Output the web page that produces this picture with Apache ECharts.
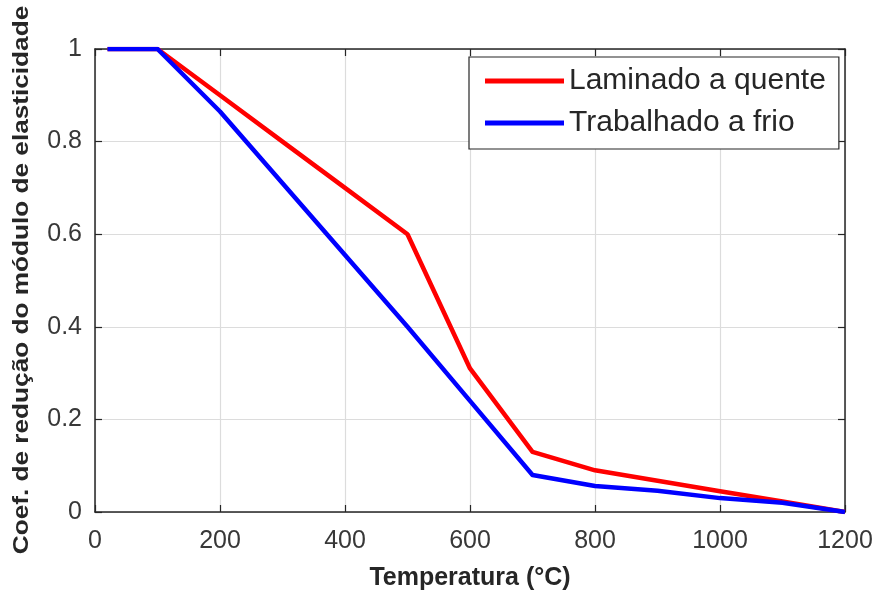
<!DOCTYPE html>
<html>
<head>
<meta charset="utf-8">
<script src="https://cdn.jsdelivr.net/npm/echarts@6/dist/echarts.min.js"></script>
<style>
  html, body { margin: 0; padding: 0; background: #fff; }
  #chart { width: 879px; height: 596px; }
</style>
</head>
<body>
<div id="chart"></div>
<script>
// Elastic modulus reduction factor versus temperature
const temperatures = [20, 100, 200, 300, 400, 500, 600, 700, 800, 900, 1000, 1100, 1200];
const hotRolled  = [1, 1, 0.9, 0.8, 0.7, 0.6, 0.31, 0.13, 0.09, 0.0675, 0.045, 0.0225, 0];
const coldFormed = [1, 1, 0.865, 0.71, 0.555, 0.40, 0.24, 0.08, 0.056, 0.046, 0.03, 0.02, 0];
const seriesNames = ['Laminado a quente', 'Trabalhado a frio'];
const xTitle = 'Temperatura (°C)';
const yTitle = 'Coef. de redução do módulo de elasticidade';

const FONT = 'Liberation Sans, Arial, sans-serif';
const INK = '#262626';

const pairs = (xs, ys) => xs.map((x, i) => [x, ys[i]]);

const chart = echarts.init(document.getElementById('chart'), null, { renderer: 'canvas' });

// Box outline: all four axes keep their own edge instead of snapping to zero
const boxAxisLine = { show: true, onZero: false, lineStyle: { color: INK, width: 1.5 } };
const innerTick = { show: true, inside: true, length: 7, lineStyle: { color: INK, width: 1.2 } };
const plain = v => String(v);

chart.setOption({
  animation: false,
  backgroundColor: '#ffffff',
  grid: { left: 95, right: 34, top: 49, bottom: 84, containLabel: false },
  legend: {
    orient: 'vertical',
    left: 469,
    top: 57,
    padding: [9, 13, 11, 16],
    itemGap: 12,
    itemWidth: 79,
    itemHeight: 5,
    itemTextGap: 9,
    icon: 'rect',
    backgroundColor: '#ffffff',
    borderColor: INK,
    borderWidth: 1.2,
    textStyle: { fontFamily: FONT, fontSize: 30, color: INK },
    data: seriesNames
  },
  xAxis: [
    {
      type: 'value', min: 0, max: 1200, interval: 200,
      axisLine: boxAxisLine, axisTick: innerTick,
      axisLabel: { fontFamily: FONT, fontSize: 25, color: '#383838', margin: 17, formatter: plain },
      splitLine: { show: true, lineStyle: { color: '#dcdcdc', width: 1.2 } }
    },
    {
      type: 'value', position: 'top', min: 0, max: 1200, interval: 200,
      axisLine: boxAxisLine, axisTick: innerTick,
      axisLabel: { show: false }, splitLine: { show: false }
    }
  ],
  yAxis: [
    {
      type: 'value', min: 0, max: 1, interval: 0.2,
      axisLine: boxAxisLine, axisTick: innerTick,
      axisLabel: { fontFamily: FONT, fontSize: 25, color: '#383838', margin: 13, formatter: plain },
      splitLine: { show: true, lineStyle: { color: '#dcdcdc', width: 1.2 } }
    },
    {
      type: 'value', position: 'right', min: 0, max: 1, interval: 0.2,
      axisLine: boxAxisLine, axisTick: innerTick,
      axisLabel: { show: false }, splitLine: { show: false }
    }
  ],
  series: [
    {
      name: seriesNames[0], type: 'line', data: pairs(temperatures, hotRolled),
      symbol: 'none', color: '#ff0000',
      lineStyle: { color: '#ff0000', width: 4.5, join: 'round' }
    },
    {
      name: seriesNames[1], type: 'line', data: pairs(temperatures, coldFormed),
      symbol: 'none', color: '#0000ff',
      lineStyle: { color: '#0000ff', width: 4.5, join: 'round' }
    }
  ],
  graphic: [
    {
      type: 'text',
      style: {
        x: 470, y: 578, text: xTitle, align: 'center', verticalAlign: 'middle',
        fontFamily: FONT, fontSize: 25, fontWeight: 'bold', fill: INK
      }
    },
    {
      type: 'text', x: 22, y: 280, rotation: Math.PI / 2, scaleX: 1.19,
      style: {
        x: 0, y: 0, text: yTitle, align: 'center', verticalAlign: 'middle',
        fontFamily: FONT, fontSize: 22, fontWeight: 'bold', fill: INK
      }
    }
  ]
});
</script>
</body>
</html>
